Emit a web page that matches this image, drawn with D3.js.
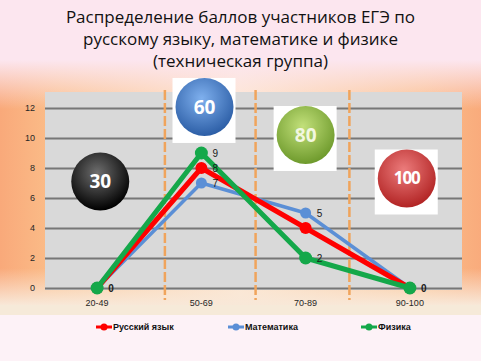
<!DOCTYPE html>
<html lang="ru">
<head>
<meta charset="utf-8">
<title>Распределение баллов ЕГЭ</title>
<script src="https://d3js.org/d3.v7.min.js"></script>
<style>
body { margin: 0; padding: 0; }
svg { display: block; }
</style>
</head>
<body>
<div id="chart"></div>
<script>
// data
var categories = ["20-49", "50-69", "70-89", "90-100"];
var russian = [0, 8, 4, 0];
var maths = [0, 7, 5, 0];
var physics = [0, 9, 2, 0];
var yTicks = [0, 2, 4, 6, 8, 10, 12];
var seriesNames = ["Русский язык", "Математика", "Физика"];
var titleLines = ["Распределение баллов участников ЕГЭ по",
                  "русскому языку, математике и физике",
                  "(техническая группа)"];
// score badges: text, category position, value position
var badgeText = ["30", "60", "80", "100"];
var badgeCat = [0.03, 1.03, 2.0, 2.97];
var badgeVal = [7.1, 12.07, 10.2, 7.3];
// orange dashed dividers, in category units
var dividers = [0.65, 1.52, 2.42];

var width = 481, height = 361;
var plot = { left: 45, right: 462, top: 92, bottom: 290 };

var svg = d3.select("#chart").append("svg")
    .attr("width", width)
    .attr("height", height);
var defs = svg.append("defs");

// background
var hg = defs.append("linearGradient").attr("id", "orangeH");
hg.append("stop").attr("offset", "0%").attr("stop-color", "#f9a97a");
hg.append("stop").attr("offset", "12%").attr("stop-color", "#fbbf8a");
hg.append("stop").attr("offset", "50%").attr("stop-color", "#fde6cf");
hg.append("stop").attr("offset", "88%").attr("stop-color", "#fbbf8a");
hg.append("stop").attr("offset", "100%").attr("stop-color", "#f9ab7c");

var vg = defs.append("linearGradient").attr("id", "fadeV")
    .attr("x1", 0).attr("y1", 0).attr("x2", 0).attr("y2", 1);
vg.append("stop").attr("offset", "0%").attr("stop-color", "#fce6ef").attr("stop-opacity", 1);
vg.append("stop").attr("offset", "20%").attr("stop-color", "#fce6ef").attr("stop-opacity", 0);
vg.append("stop").attr("offset", "85%").attr("stop-color", "#fbe9dc").attr("stop-opacity", 0);
vg.append("stop").attr("offset", "100%").attr("stop-color", "#f8e8d8").attr("stop-opacity", 1);

svg.append("rect").attr("width", width).attr("height", height).attr("fill", "#fdf2f7");
svg.append("rect").attr("x", 0).attr("y", 0).attr("width", width).attr("height", 80).attr("fill", "#fce6ef");
svg.append("rect").attr("x", 0).attr("y", 60).attr("width", width).attr("height", 245).attr("fill", "url(#orangeH)");
svg.append("rect").attr("x", 0).attr("y", 60).attr("width", width).attr("height", 245).attr("fill", "url(#fadeV)");
svg.append("rect").attr("x", 0).attr("y", 305).attr("width", width).attr("height", 10).attr("fill", "#f6ead9");

// title
svg.append("g").selectAll("text")
    .data(titleLines)
    .join("text")
    .attr("x", width / 2)
    .attr("y", function (d, i) { return 23 + i * 22; })
    .attr("text-anchor", "middle")
    .attr("font-family", "Open Sans, sans-serif")
    .attr("font-size", 17)
    .attr("fill", "#111")
    .text(function (d) { return d; });

// scales
var x = d3.scaleBand().domain(categories).range([plot.left, plot.right]);
var xi = d3.scaleLinear().domain([0, 1])
    .range([x(categories[0]) + x.bandwidth() / 2, x(categories[1]) + x.bandwidth() / 2]);
var y = d3.scaleLinear().domain([0, 12]).range([288, 108]);

svg.append("rect")
    .attr("x", plot.left).attr("y", plot.top)
    .attr("width", plot.right - plot.left).attr("height", plot.bottom - plot.top)
    .attr("fill", "#d9d9d9");

// gridlines + y labels
var yAxis = d3.axisLeft(y).tickValues(yTicks).tickSize(-(plot.right - plot.left)).tickPadding(10);
var yg = svg.append("g").attr("transform", "translate(" + plot.left + ",0)").call(yAxis);
yg.select(".domain").remove();
yg.selectAll(".tick line").attr("stroke", "#777").attr("stroke-width", 2);
yg.selectAll(".tick text").attr("font-family", "Liberation Sans, sans-serif")
    .attr("font-size", 9).attr("fill", "#262626");

// x labels
var xAxis = d3.axisBottom(x).tickSize(0).tickPadding(0);
var xg = svg.append("g").attr("transform", "translate(0,300)").call(xAxis);
xg.select(".domain").remove();
xg.selectAll(".tick text").attr("font-family", "Liberation Sans, sans-serif")
    .attr("font-size", 9).attr("fill", "#262626");

// dividers
svg.append("g").selectAll("line")
    .data(dividers)
    .join("line")
    .attr("x1", function (d) { return xi(d); })
    .attr("x2", function (d) { return xi(d); })
    .attr("y1", plot.top - 2).attr("y2", 300)
    .attr("stroke", "#f0a45c").attr("stroke-width", 2.5)
    .attr("stroke-dasharray", "10,3");

// badges
var badgeFill = [["#6e6e6e", "#000000"], ["#7fb0ee", "#2c5ea6"], ["#c2e07a", "#6e9a2c"], ["#ec7c7c", "#b22424"]];
badgeFill.forEach(function (c, i) {
    var rg = defs.append("radialGradient").attr("id", "badge" + i)
        .attr("cx", "45%").attr("cy", "35%").attr("r", "65%");
    rg.append("stop").attr("offset", "0%").attr("stop-color", c[0]);
    rg.append("stop").attr("offset", "100%").attr("stop-color", c[1]);
});

var badges = svg.append("g").selectAll("g")
    .data(badgeText)
    .join("g")
    .attr("transform", function (d, i) {
        return "translate(" + xi(badgeCat[i]) + "," + y(badgeVal[i]) + ")";
    });
badges.filter(function (d, i) { return i > 0; })
    .append("rect")
    .attr("x", -32).attr("y", -29).attr("width", 63).attr("height", 65)
    .attr("fill", "#ffffff");
badges.append("circle")
    .attr("r", 29)
    .attr("fill", function (d, i) { return "url(#badge" + i + ")"; });
badges.append("text")
    .attr("text-anchor", "middle")
    .attr("dy", "0.35em")
    .attr("font-family", "Open Sans, sans-serif")
    .attr("font-weight", "bold")
    .attr("font-size", function (d) { return d.length > 2 ? 17 : 19; })
    .attr("letter-spacing", function (d) { return d.length > 2 ? -1 : 0; })
    .attr("fill", function (d, i) { return i == 2 ? "#f2f7e0" : "#ffffff"; })
    .text(function (d) { return d; });

// series
var series = [
    { name: seriesNames[0], values: russian, color: "#ff0000", width: 5, r: 6 },
    { name: seriesNames[1], values: maths, color: "#5b8fd6", width: 3.5, r: 5.5 },
    { name: seriesNames[2], values: physics, color: "#14a84a", width: 5, r: 6.5 }
];
var drawOrder = [1, 0, 2];

function cx(i) { return x(categories[i]) + x.bandwidth() / 2; }

var line = d3.line()
    .x(function (d, i) { return cx(i); })
    .y(function (d) { return y(d); });

drawOrder.forEach(function (k) {
    var s = series[k];
    svg.append("path")
        .attr("d", line(s.values))
        .attr("fill", "none")
        .attr("stroke", s.color)
        .attr("stroke-width", s.width)
        .attr("stroke-linejoin", "round");
    svg.append("g").selectAll("circle")
        .data(s.values)
        .join("circle")
        .attr("cx", function (d, i) { return cx(i); })
        .attr("cy", function (d) { return y(d); })
        .attr("r", s.r)
        .attr("fill", s.color);
});

// data labels (the overlapping ones are hidden as in the original)
var labelShown = [[false, true, false, false], [false, true, true, false], [true, true, true, true]];
drawOrder.forEach(function (k) {
    var s = series[k];
    var pts = s.values
        .map(function (v, i) { return { v: v, i: i }; })
        .filter(function (p) { return labelShown[k][p.i]; });
    svg.append("g").selectAll("text")
        .data(pts)
        .join("text")
        .attr("x", function (p) { return cx(p.i) + 11; })
        .attr("y", function (p) { return y(p.v); })
        .attr("dy", "0.35em")
        .attr("font-family", "Liberation Sans, sans-serif")
        .attr("font-size", 10)
        .attr("font-weight", function (p) { return p.v == 0 ? "bold" : "normal"; })
        .attr("fill", "#1a1a1a")
        .text(function (p) { return p.v; });
});

// legend
var legendX = [96, 228, 361];
var lg = svg.append("g").selectAll("g")
    .data(series)
    .join("g")
    .attr("transform", function (d, i) { return "translate(" + legendX[i] + ",327)"; });
lg.append("line")
    .attr("x1", 0).attr("x2", 16)
    .attr("stroke", function (d) { return d.color; })
    .attr("stroke-width", 3);
lg.append("circle")
    .attr("cx", 8).attr("r", 3.5)
    .attr("fill", function (d) { return d.color; });
lg.append("text")
    .attr("x", 17)
    .attr("dy", "0.35em")
    .attr("font-family", "Liberation Sans Narrow, Liberation Sans, sans-serif")
    .attr("font-weight", "bold")
    .attr("font-size", 9)
    .attr("fill", "#111")
    .text(function (d) { return d.name; });
</script>
</body>
</html>
